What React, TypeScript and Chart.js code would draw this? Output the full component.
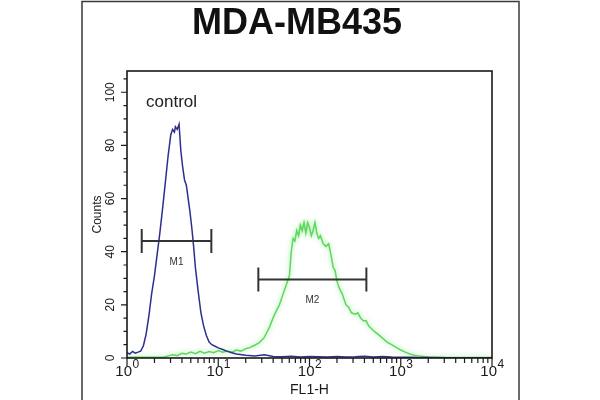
import React, { useEffect, useRef } from 'react';
import { Chart, registerables } from 'chart.js';

Chart.register(...registerables);

const TITLE = 'MDA-MB435';
const X_TITLE = 'FL1-H';
const Y_TITLE = 'Counts';
const SAMPLE_NOTE = 'control';

const X_TICK_VALUES = [1, 10, 100, 1000, 10000];
const X_TICK_BASE = '10';
const X_TICK_EXPONENTS = ['0', '1', '2', '3', '4'];
const Y_TICK_VALUES = [0, 20, 40, 60, 80, 100];

// control histogram (blue)
const controlX = [
  1, 1.07, 1.15, 1.23, 1.32, 1.41, 1.51, 1.62, 1.74, 1.86, 2.0, 2.14, 2.29, 2.45, 2.63, 2.82,
  3.02, 3.16, 3.31, 3.39, 3.55, 3.72, 3.89, 4.07, 4.27, 4.47, 4.68, 4.9, 5.13, 5.37, 5.62,
  6.03, 6.46, 6.92, 7.41, 7.94, 8.51, 9.12, 10, 11.2, 12.6, 14.1, 15.8, 20, 25, 32, 40, 50,
  63, 80, 100, 126, 158, 200, 251, 316, 398, 501, 631, 794, 1000, 1259, 1585, 2000, 3162,
  5012, 10000,
];
const controlY = [
  2, 1.5, 2.5, 1.8, 2.2, 2.6, 4.5, 9, 16, 24, 31, 39, 47, 56, 66, 76,
  84, 86, 85, 87, 86, 88, 78, 72, 67, 65, 60, 55, 49, 42, 34,
  25, 17, 12, 8.5, 6, 5, 4.5, 3.8, 3.2, 2.5, 2, 1.5, 1, 0.8, 1.2, 0.6, 0.5,
  0.7, 0.4, 0.6, 0.5, 0.4, 0.6, 0.4, 0.5, 0.7, 0.4, 0.6, 0.4, 0.3, 0.3, 0.2, 0.2, 0.1,
  0.1, 0.1,
];

// MDA-MB435 histogram (green)
const sampleX = [
  1, 1.58, 2.51, 2.82, 3.16, 3.55, 3.98, 4.47, 5.01, 5.62, 6.31, 7.08, 7.94, 8.91, 10, 11.2,
  12.6, 14.1, 15.8, 17.8, 20, 22.4, 25.1, 28.2, 31.6, 33.9, 36.3, 39.8, 43.7, 46.8, 50.1,
  53.7, 57.5, 60.3, 63.1, 66.1, 69.2, 72.4, 75.9, 79.4, 83.2, 87.1, 91.2, 95.5, 100, 104.7,
  109.6, 114.8, 120.2, 125.9, 131.8, 141.3, 151.4, 162.2, 173.8, 182, 190.5, 199.5, 213.8,
  229.1, 251.2, 269.2, 288.4, 316.2, 338.8, 363.1, 389, 416.9, 446.7, 478.6, 512.9, 562.3,
  631, 707.9, 794.3, 891.3, 1000, 1122, 1259, 1413, 1585, 1995, 3162, 10000,
];
const sampleY = [
  0.3, 0.3, 0.3, 0.8, 1.2, 0.9, 1.8, 1.5, 2.2, 1.6, 2.5, 1.8, 2.4, 2, 2.8, 2.2,
  2.6, 2.2, 3, 2.6, 3.5, 4, 4.8, 5.8, 7.5, 9.5, 11.5, 15, 18, 20, 23,
  26, 29, 31, 40, 45, 44, 48, 46, 50, 48, 51, 47, 51, 49, 46,
  48, 51, 47, 45, 46, 43, 42, 43, 38, 34, 33, 29, 26,
  24, 20, 19, 17, 16.5, 17, 15, 14, 14, 12, 11, 10, 9,
  7.5, 6, 5, 4, 3, 2.2, 1.5, 1, 0.8, 0.4, 0.2, 0.2,
];

// gate markers
const markerNames = ['M1', 'M2'];
const markerLow = [1.45, 27.5];
const markerHigh = [8.4, 420];
const markerLevel = [44, 29.5];

const FONT = '"Liberation Sans", Arial, sans-serif';

const decorPlugin = {
  id: 'decor',
  beforeDraw(chart: any) {
    const { ctx, width, height } = chart;
    ctx.save();
    ctx.fillStyle = '#ffffff';
    ctx.fillRect(0, 0, width, height);
    ctx.strokeStyle = '#3a3a3a';
    ctx.lineWidth = 1.5;
    ctx.strokeRect(82, 1.5, 437, height + 10);
    ctx.restore();
  },
  beforeDatasetDraw(chart: any, args: any) {
    if (args.index === 1) {
      chart.ctx.save();
      chart.ctx.shadowColor = 'rgba(140, 235, 140, 0.95)';
      chart.ctx.shadowBlur = 5;
    }
  },
  afterDatasetDraw(chart: any, args: any) {
    if (args.index === 1) chart.ctx.restore();
  },
  afterDraw(chart: any) {
    const { ctx, chartArea } = chart;
    const xs = chart.scales.x;
    const ys = chart.scales.y;
    const { left, right, top, bottom } = chartArea;
    ctx.save();

    // plot frame
    ctx.strokeStyle = '#1a1a1a';
    ctx.lineWidth = 1.6;
    ctx.strokeRect(left, top, right - left, bottom - top);

    // x ticks
    ctx.lineWidth = 1.2;
    ctx.beginPath();
    for (let d = 0; d < 4; d++) {
      for (let m = 1; m <= 9; m++) {
        const v = m * Math.pow(10, d);
        const px = xs.getPixelForValue(v);
        const len = m === 1 ? 8 : 5;
        ctx.moveTo(px, bottom);
        ctx.lineTo(px, bottom + len);
      }
    }
    const pEnd = xs.getPixelForValue(10000);
    ctx.moveTo(pEnd, bottom);
    ctx.lineTo(pEnd, bottom + 8);
    // y ticks
    for (let v = 0; v <= 105; v += 5) {
      const py = ys.getPixelForValue(v);
      const len = v % 20 === 0 ? 6 : 3.5;
      ctx.moveTo(left, py);
      ctx.lineTo(left - len, py);
    }
    ctx.stroke();

    // x tick labels: base with raised exponent
    ctx.fillStyle = '#1a1a1a';
    ctx.textBaseline = 'alphabetic';
    ctx.textAlign = 'left';
    X_TICK_VALUES.forEach((v, i) => {
      const px = xs.getPixelForValue(v);
      ctx.font = `15px ${FONT}`;
      const wb = ctx.measureText(X_TICK_BASE).width;
      ctx.font = `12px ${FONT}`;
      const we = ctx.measureText(X_TICK_EXPONENTS[i]).width;
      const x0 = px - (wb + we) / 2;
      ctx.font = `15px ${FONT}`;
      ctx.fillText(X_TICK_BASE, x0, bottom + 18);
      ctx.font = `12px ${FONT}`;
      ctx.fillText(X_TICK_EXPONENTS[i], x0 + wb + 0.5, bottom + 10);
    });

    // markers
    ctx.strokeStyle = '#333333';
    ctx.fillStyle = '#333333';
    ctx.lineWidth = 2;
    ctx.font = `10px ${FONT}`;
    ctx.textAlign = 'center';
    ctx.textBaseline = 'middle';
    markerNames.forEach((name, i) => {
      const x0 = xs.getPixelForValue(markerLow[i]);
      const x1 = xs.getPixelForValue(markerHigh[i]);
      const y = ys.getPixelForValue(markerLevel[i]);
      ctx.beginPath();
      ctx.moveTo(x0, y);
      ctx.lineTo(x1, y);
      ctx.moveTo(x0, y - 12);
      ctx.lineTo(x0, y + 12);
      ctx.moveTo(x1, y - 12);
      ctx.lineTo(x1, y + 12);
      ctx.stroke();
      const xm = xs.getPixelForValue(Math.sqrt(markerLow[i] * markerHigh[i]));
      ctx.fillText(name, xm, y + 21);
    });

    // sample note
    ctx.fillStyle = '#222222';
    ctx.font = `17px ${FONT}`;
    ctx.textAlign = 'left';
    ctx.textBaseline = 'alphabetic';
    ctx.fillText(SAMPLE_NOTE, left + 19, top + 36);

    // title
    ctx.fillStyle = '#111111';
    ctx.font = `bold 36px ${FONT}`;
    ctx.textAlign = 'center';
    ctx.fillText(TITLE, 297, 34);
    ctx.restore();
  },
};

export default function App() {
  const canvasRef = useRef<HTMLCanvasElement | null>(null);

  useEffect(() => {
    document.body.style.margin = '0';
    const canvas = canvasRef.current;
    if (!canvas) return;
    const chart = new Chart(canvas, {
      type: 'line',
      data: {
        datasets: [
          {
            label: SAMPLE_NOTE,
            data: controlX.map((x, i) => ({ x, y: controlY[i] })),
            borderColor: '#2d2f8e',
            borderWidth: 1.5,
            pointRadius: 0,
            tension: 0,
            order: 1,
          },
          {
            label: TITLE,
            data: sampleX.map((x, i) => ({ x, y: sampleY[i] })),
            borderColor: '#5fd65f',
            borderWidth: 1.5,
            pointRadius: 0,
            tension: 0,
            order: 2,
          },
        ],
      },
      options: {
        animation: false,
        responsive: false,
        maintainAspectRatio: false,
        layout: { padding: { top: 71, right: 108, left: 0, bottom: 0 } },
        plugins: {
          legend: { display: false },
          tooltip: { enabled: false },
          title: { display: false },
        },
        scales: {
          x: {
            type: 'logarithmic',
            min: 1,
            max: 10000,
            afterBuildTicks: (s: any) => {
              s.ticks = X_TICK_VALUES.map((v) => ({ value: v }));
            },
            afterFit: (s: any) => {
              s.height = 42;
            },
            grid: { display: false, drawTicks: false },
            border: { display: false },
            ticks: { display: false },
            title: {
              display: true,
              text: X_TITLE,
              color: '#1a1a1a',
              font: { family: FONT, size: 14 },
              padding: { top: 0, bottom: 1 },
            },
          },
          y: {
            type: 'linear',
            min: 0,
            max: 108,
            afterBuildTicks: (s: any) => {
              s.ticks = Y_TICK_VALUES.map((v) => ({ value: v }));
            },
            afterFit: (s: any) => {
              s.width = 127;
            },
            grid: { display: false, drawTicks: false },
            border: { display: false },
            ticks: {
              autoSkip: false,
              minRotation: 90,
              maxRotation: 90,
              crossAlign: 'center',
              padding: 6,
              color: '#1a1a1a',
              font: { family: FONT, size: 12 },
            },
            title: {
              display: true,
              text: Y_TITLE,
              color: '#1a1a1a',
              font: { family: FONT, size: 12 },
              padding: { top: 90, bottom: 0 },
            },
          },
        },
      },
      plugins: [decorPlugin],
    } as any);
    return () => chart.destroy();
  }, []);

  return (
    <div style={{ position: 'absolute', left: 0, top: 0, width: 600, height: 400 }}>
      <canvas ref={canvasRef} width={600} height={400} />
    </div>
  );
}
